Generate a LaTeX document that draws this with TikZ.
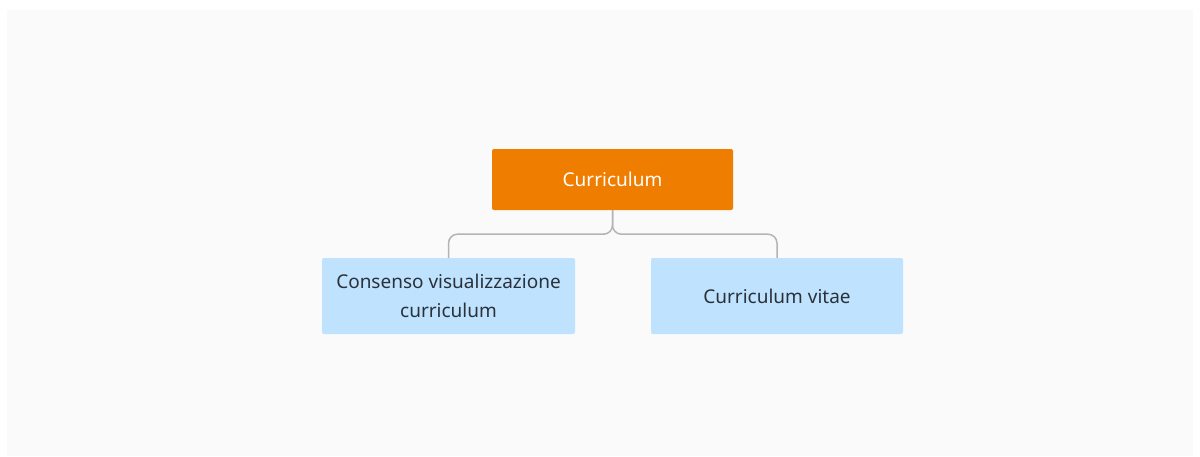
\documentclass[tikz,border=0pt]{standalone}
\usepackage{fontspec}
\setmainfont{Noto Sans}
\usetikzlibrary{calc}
\definecolor{bgc}{HTML}{FAFAFA}
\definecolor{orangec}{HTML}{EF7D00}
\definecolor{bluec}{HTML}{BFE3FE}
\definecolor{textc}{HTML}{2B313A}
\definecolor{linec}{HTML}{B4B4B4}
\tikzset{
  topbox/.style={fill=orangec, text=white, rounded corners=2pt, minimum width=241pt, minimum height=61pt, inner sep=0pt, font=\fontsize{19}{23}\selectfont},
  childbox/.style={fill=bluec, text=textc, rounded corners=2pt, minimum width=253pt, minimum height=76pt, inner sep=0pt, align=center, font=\fontsize{19}{29}\selectfont},
  conn/.style={draw=linec, line width=1.5pt, rounded corners=9pt}
}
\begin{document}
\begin{tikzpicture}[x=1pt,y=-1pt]
\useasboundingbox (0,0) rectangle (1200,456);
\fill[bgc] (7,10) rectangle (1193,456);
\node[topbox] (top) at (612.5,179.5) {Curriculum};
\node[childbox] (left) at (448.5,296) {Consenso visualizzazione\\curriculum};
\node[childbox, minimum width=252pt] (right) at (777,296) {Curriculum vitae};
\coordinate (junc) at ($(top.south)+(0,24)$);
\draw[conn] (left.north) |- (junc) -- (top.south);
\draw[conn] (right.north) |- (junc) -- (top.south);
\end{tikzpicture}
\end{document}
